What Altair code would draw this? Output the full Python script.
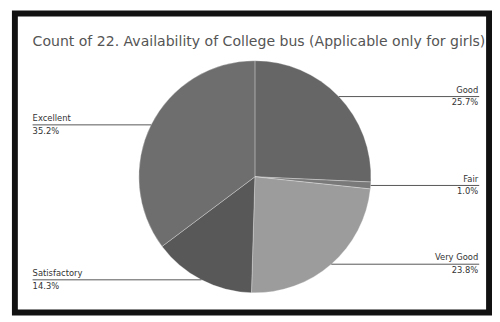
import altair as alt
import pandas as pd

# Data
categories = ["Good", "Fair", "Very Good", "Satisfactory", "Excellent"]
counts = [27, 1, 25, 15, 37]
slice_colors = ["#666666", "#7a7a7a", "#9c9c9c", "#585858", "#6e6e6e"]
title_text = "Count of 22. Availability of College bus (Applicable only for girls)"

df = pd.DataFrame({"category": categories, "count": counts, "idx": list(range(len(categories)))})

W, H = 492, 312
CX, CY, R = 251, 169, 118
RIGHT_X, LEFT_X = 478, 25

frame = alt.Chart(pd.DataFrame({"a": [0]})).mark_rect(
    filled=False, stroke="#111111", strokeWidth=6
).encode(x=alt.value(7), x2=alt.value(489), y=alt.value(3), y2=alt.value(307))

title = alt.Chart(pd.DataFrame({"t": [title_text]})).mark_text(
    align="left", baseline="middle", fontSize=14.3, font="DejaVu Sans", color="#555555"
).encode(x=alt.value(LEFT_X), y=alt.value(32), text="t:N")

pie = alt.Chart(df).mark_arc(radius=R, stroke="#ffffff", strokeWidth=0.3).encode(
    theta=alt.Theta("count:Q", stack=True),
    order=alt.Order("idx:Q", sort="ascending"),
    color=alt.Color("category:N", scale=alt.Scale(domain=categories, range=slice_colors), legend=None),
    x=alt.value(CX),
    y=alt.value(CY),
)

base = alt.Chart(df).transform_joinaggregate(
    total="sum(count)"
).transform_window(
    cum="sum(count)", sort=[alt.SortField("idx", order="ascending")], frame=[None, 0]
).transform_calculate(
    mid="(datum.cum - datum.count / 2) / datum.total * 2 * PI",
    px=f"{CX} + {R} * sin(datum.mid)",
    py=f"{CY} - {R} * cos(datum.mid)",
    isright=f"datum.px > {CX} ? 1 : 0",
    ex=f"datum.px > {CX} ? {RIGHT_X + 1} : {LEFT_X}",
    tx=f"datum.px > {CX} ? {RIGHT_X} : {LEFT_X}",
    pct="format(datum.count / datum.total, '.1%')",
)

lines = base.mark_rule(color="#555555", strokeWidth=1).encode(
    x=alt.X("px:Q", scale=None), x2="ex:Q", y=alt.Y("py:Q", scale=None)
)

def labels(side, align):
    b = base.transform_filter(f"datum.isright == {side}")
    name = b.mark_text(align=align, baseline="bottom", dy=-2, fontSize=8.5,
                       font="DejaVu Sans", color="#333333").encode(
        x=alt.X("tx:Q", scale=None), y=alt.Y("py:Q", scale=None), text="category:N")
    pc = b.mark_text(align=align, baseline="top", dy=2, fontSize=8.5,
                     font="DejaVu Sans", color="#333333").encode(
        x=alt.X("tx:Q", scale=None), y=alt.Y("py:Q", scale=None), text="pct:N")
    return name + pc

chart = alt.layer(
    frame, title, pie, lines, labels(1, "right"), labels(0, "left")
).properties(
    width=W, height=H, padding=0, autosize=alt.AutoSizeParams(type="none")
).configure_view(stroke=None)

chart.save("out.html", embed_options={"renderer": "svg", "actions": False})
